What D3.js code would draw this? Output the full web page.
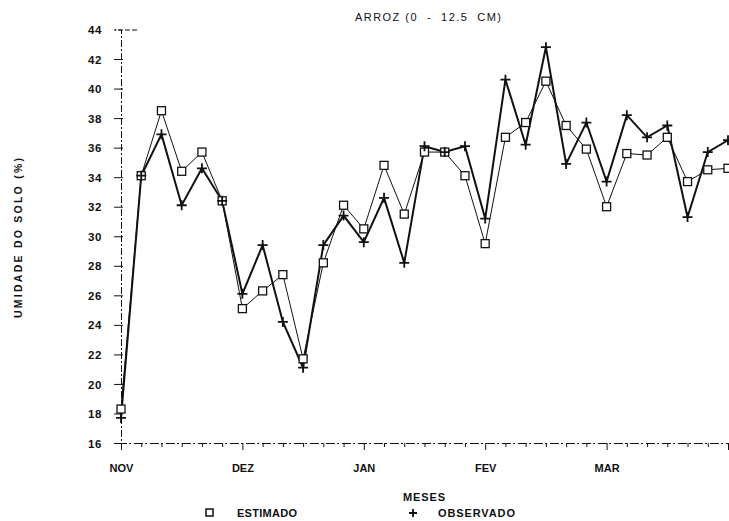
<!DOCTYPE html>
<html>
<head>
<meta charset="utf-8">
<script src="https://cdn.jsdelivr.net/npm/d3@7"></script>
<style>
  html, body { margin: 0; padding: 0; background: #fff; }
  svg { display: block; font-family: "Liberation Sans", Arial, sans-serif; }
</style>
</head>
<body>
<svg id="chart" width="729" height="521"></svg>
<script>
// ---- data ----
const months = ["NOV", "DEZ", "JAN", "FEV", "MAR"];
const yTicks = [16, 18, 20, 22, 24, 26, 28, 30, 32, 34, 36, 38, 40, 42, 44];
const estimado = [18.3, 34.1, 38.5, 34.4, 35.7, 32.4, 25.1, 26.3, 27.4, 21.7, 28.2, 32.1, 30.5, 34.8, 31.5, 35.7, 35.7, 34.1, 29.5, 36.7, 37.7, 40.5, 37.5, 35.9, 32.0, 35.6, 35.5, 36.7, 33.7, 34.5, 34.6];
const observado = [17.7, 34.1, 36.9, 32.1, 34.6, 32.4, 26.1, 29.4, 24.2, 21.1, 29.4, 31.4, 29.6, 32.6, 28.2, 36.1, 35.7, 36.1, 31.2, 40.6, 36.2, 42.8, 34.9, 37.7, 33.7, 38.2, 36.7, 37.5, 31.3, 35.7, 36.5];
const stepsPerMonth = 6;
const title = "ARROZ (0  -  12.5  CM)";
const yLabel = "UMIDADE DO SOLO (%)";
const xLabel = "MESES";
const legendLabels = ["ESTIMADO", "OBSERVADO"];

// ---- layout ----
const svg = d3.select("#chart");
const x0 = 121, x1 = 728, yTop = 29.5, yBot = 443;
const x = d3.scaleLinear().domain([0, 5]).range([x0, x1]);
const y = d3.scaleLinear().domain([16, 44]).range([yBot, yTop]);
const tx = i => x(i / stepsPerMonth);
const ink = "#111";

// ---- y axis ----
const yAxis = svg.append("g")
  .attr("transform", `translate(${x0},0)`)
  .call(d3.axisLeft(y).tickValues(yTicks).tickSize(6).tickPadding(13).tickFormat(d3.format("d")));
yAxis.select(".domain").attr("stroke", ink).attr("stroke-dasharray", "7,2,2,2");
yAxis.selectAll(".tick line").attr("stroke", ink).attr("x2", -7).attr("x1", 2);
yAxis.select(".tick:last-of-type line").attr("x1", 16).attr("stroke-dasharray", "5,2");
yAxis.selectAll(".tick text").attr("fill", ink).attr("font-size", 11.5).attr("font-weight", "bold")
  .attr("letter-spacing", "0.6px").attr("dy", "0.36em");

// ---- x axis ----
const xTickVals = d3.range(0, 31).map(i => i / stepsPerMonth);
const xAxis = svg.append("g")
  .attr("transform", `translate(0,${yBot})`)
  .call(d3.axisBottom(x).tickValues(xTickVals).tickSize(4).tickPadding(17)
    .tickFormat(d => { const k = Math.round(d * stepsPerMonth); return k % stepsPerMonth === 0 ? (months[k / stepsPerMonth] || "") : ""; }));
xAxis.select(".domain").attr("stroke", ink).attr("stroke-dasharray", "9,2,2,3");
xAxis.selectAll(".tick line").attr("stroke", ink)
  .attr("y2", d => Math.round(d * stepsPerMonth) % stepsPerMonth === 0 ? 7 : 4);
xAxis.selectAll(".tick text").attr("fill", ink).attr("font-size", 11).attr("font-weight", "bold");

// ---- lines ----
const line = d3.line().x((d, i) => tx(i)).y(d => y(d));
svg.append("path").datum(estimado).attr("d", line)
  .attr("fill", "none").attr("stroke", ink).attr("stroke-width", 1);
svg.append("path").datum(observado).attr("d", line)
  .attr("fill", "none").attr("stroke", ink).attr("stroke-width", 2).attr("stroke-linejoin", "miter");

// ---- markers ----
svg.append("g").selectAll("rect").data(estimado).join("rect")
  .attr("x", (d, i) => tx(i) - 4).attr("y", d => y(d) - 4)
  .attr("width", 8).attr("height", 8)
  .attr("fill", "#fff").attr("stroke", ink).attr("stroke-width", 1.3);
svg.append("g").selectAll("path").data(observado).join("path")
  .attr("d", (d, i) => `M${tx(i) - 5},${y(d)}H${tx(i) + 5}M${tx(i)},${y(d) - 5}V${y(d) + 5}`)
  .attr("stroke", ink).attr("stroke-width", 1.8).attr("fill", "none");

// ---- texts ----
svg.append("text").attr("x", 428).attr("y", 21).attr("text-anchor", "middle")
  .attr("font-size", 11).attr("fill", ink).style("white-space", "pre")
  .attr("textLength", 146).attr("lengthAdjust", "spacing").text(title);
svg.append("text").attr("transform", "translate(22,238) rotate(-90)").attr("text-anchor", "middle")
  .attr("font-size", 10.5).attr("font-weight", "bold").attr("fill", ink).style("white-space", "pre")
  .attr("textLength", 160).attr("lengthAdjust", "spacing").text(yLabel);
svg.append("text").attr("x", 424).attr("y", 501).attr("text-anchor", "middle")
  .attr("font-size", 11).attr("font-weight", "bold").attr("fill", ink)
  .attr("textLength", 42).attr("lengthAdjust", "spacing").text(xLabel);

// legend
const leg = svg.append("g");
leg.append("rect").attr("x", 206).attr("y", 509).attr("width", 7).attr("height", 7)
  .attr("fill", "#fff").attr("stroke", ink).attr("stroke-width", 1.5);
leg.append("text").attr("x", 237).attr("y", 517).attr("font-size", 11).attr("font-weight", "bold").attr("fill", ink)
  .attr("textLength", 60).attr("lengthAdjust", "spacing").text(legendLabels[0]);
leg.append("path").attr("d", "M409,513H417M413,509V517").attr("stroke", ink).attr("stroke-width", 1.8);
leg.append("text").attr("x", 438).attr("y", 517).attr("font-size", 11).attr("font-weight", "bold").attr("fill", ink)
  .attr("textLength", 77).attr("lengthAdjust", "spacing").text(legendLabels[1]);
</script>
</body>
</html>
